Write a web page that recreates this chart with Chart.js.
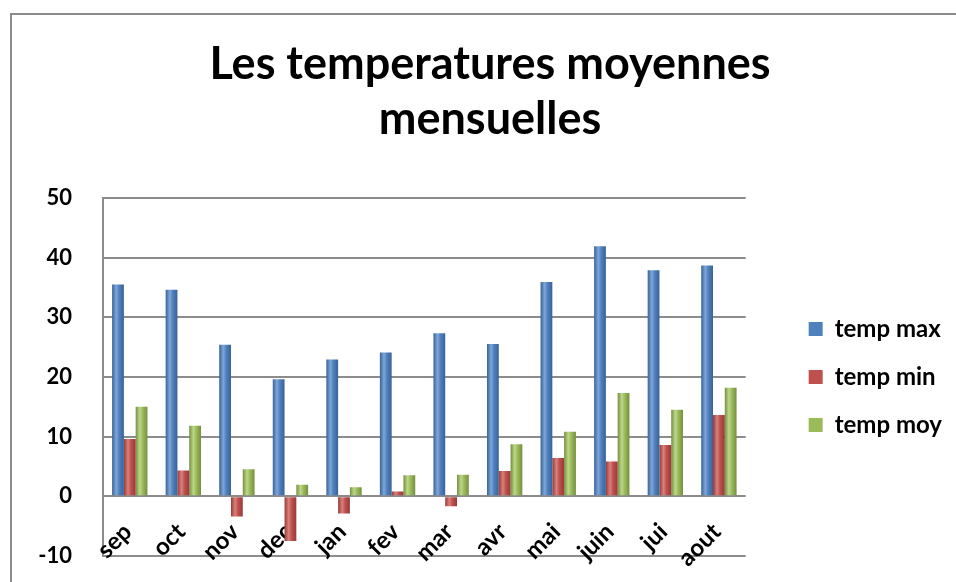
<!DOCTYPE html>
<html>
<head>
<meta charset="utf-8">
<script src="https://cdn.jsdelivr.net/npm/chart.js@4/dist/chart.umd.min.js"></script>
<style>
  html, body { margin: 0; padding: 0; background: #fff; overflow: hidden; }
  #frame { position: absolute; left: 10px; top: 13px; width: 1000px; height: 700px;
           border-left: 2px solid #8c8c8c; border-top: 2px solid #8c8c8c; }
  /* a bit taller than the window: chart.js keeps ~44px under the plot, the -10 line has to sit lower */
  #wrap { position: absolute; left: 0; top: 0; width: 956px; height: 600px; }
</style>
</head>
<body>
<div id="frame"></div>
<div id="wrap"><canvas id="tempChart"></canvas></div>
<script>
const months = ['sep', 'oct', 'nov', 'dec', 'jan', 'fev', 'mar', 'avr', 'mai', 'juin', 'jui', 'aout'];
const tempMax = [35.5, 34.6, 25.4, 19.6, 22.9, 24.1, 27.3, 25.5, 35.9, 41.9, 37.9, 38.7];
const tempMin = [9.6, 4.3, -3.4, -7.5, -2.9, 0.8, -1.7, 4.2, 6.4, 5.8, 8.6, 13.6];
const tempMoy = [15.0, 11.8, 4.5, 1.9, 1.5, 3.5, 3.6, 8.7, 10.8, 17.3, 14.5, 18.2];
const seriesNames = ['temp max', 'temp min', 'temp moy'];
const titleLines = ['Les temperatures moyennes', 'mensuelles'];

// cylinder-ish shading: dark edge, light highlight, dark edge
const cylinder = (base, light, dark) => (ctx) => {
    const el = ctx.element;
    if (!el || el.x == null || !el.width) return base;
    const g = ctx.chart.ctx.createLinearGradient(el.x - el.width / 2, 0, el.x + el.width / 2, 0);
    g.addColorStop(0, dark);
    g.addColorStop(0.35, light);
    g.addColorStop(0.6, base);
    g.addColorStop(1, dark);
    return g;
};

const legendColors = ['#4F81BD', '#C0504D', '#9BBB59'];
const font = 'Lato, "Open Sans", sans-serif';

// month labels sit slanted inside the lower band, under the bars (like the excel 3d floor)
const slantedLabels = {
    id: 'slantedLabels',
    beforeDatasetsDraw(chart) {
        const x = chart.scales.x;
        const c = chart.ctx;
        c.save();
        c.fillStyle = '#000';
        c.font = 'bold 24px ' + font;
        c.textAlign = 'right';
        c.textBaseline = 'middle';
        x.ticks.forEach((t, i) => {
            c.save();
            c.translate(x.getPixelForValue(i) - 2, chart.chartArea.bottom - 28);
            c.rotate(-Math.PI / 4);
            c.fillText(months[i], 0, 0);
            c.restore();
        });
        c.restore();
    }
};

const ctx = document.getElementById('tempChart').getContext('2d');
const chart = new Chart(ctx, {
    type: 'bar',
    data: {
        labels: months,
        datasets: [
            { label: seriesNames[0], data: tempMax, backgroundColor: cylinder('#4F81BD', '#7FA6DA', '#3A6296') },
            { label: seriesNames[1], data: tempMin, backgroundColor: cylinder('#C0504D', '#DA817E', '#943B39') },
            { label: seriesNames[2], data: tempMoy, backgroundColor: cylinder('#9BBB59', '#BDD78A', '#758E40') }
        ]
    },
    plugins: [slantedLabels],
    options: {
        responsive: true,
        maintainAspectRatio: false,
        animation: false,
        categoryPercentage: 0.66,
        barPercentage: 1.0,
        layout: { padding: { top: 0, right: 4, bottom: 8, left: 28 } },
        plugins: {
            title: {
                display: true,
                text: titleLines,
                color: '#000',
                font: { family: font, size: 45, weight: 'bold', lineHeight: 55 / 45 },
                padding: { top: 37, bottom: 51 }
            },
            legend: {
                position: 'right',
                fullSize: false,
                labels: {
                    color: '#000',
                    font: { family: font, size: 24, weight: 'bold' },
                    boxWidth: 14,
                    boxHeight: 14,
                    padding: 24,
                    generateLabels: (c) => c.data.datasets.map((d, i) => ({
                        text: d.label,
                        fillStyle: legendColors[i],
                        strokeStyle: legendColors[i],
                        lineWidth: 0,
                        fontColor: '#000',
                        datasetIndex: i
                    }))
                }
            },
            tooltip: { enabled: false }
        },
        scales: {
            x: {
                grid: { display: false, drawTicks: false },
                border: { display: false },
                ticks: { display: false }
            },
            y: {
                min: -10,
                max: 50,
                ticks: {
                    stepSize: 10,
                    color: '#000',
                    font: { family: font, size: 22, weight: 'bold' },
                    padding: 31
                },
                grid: { color: '#8c8c8c', lineWidth: 2, drawTicks: false },
                border: { display: true, color: '#8c8c8c', width: 2 },
                afterFit: (scale) => { scale.width = 75; }
            },
            // empty spacer between plot and legend
            yRight: {
                position: 'right',
                display: false,
                afterFit: (scale) => { scale.width = 39; }
            }
        }
    }
});
chart.update('none');
</script>
</body>
</html>
